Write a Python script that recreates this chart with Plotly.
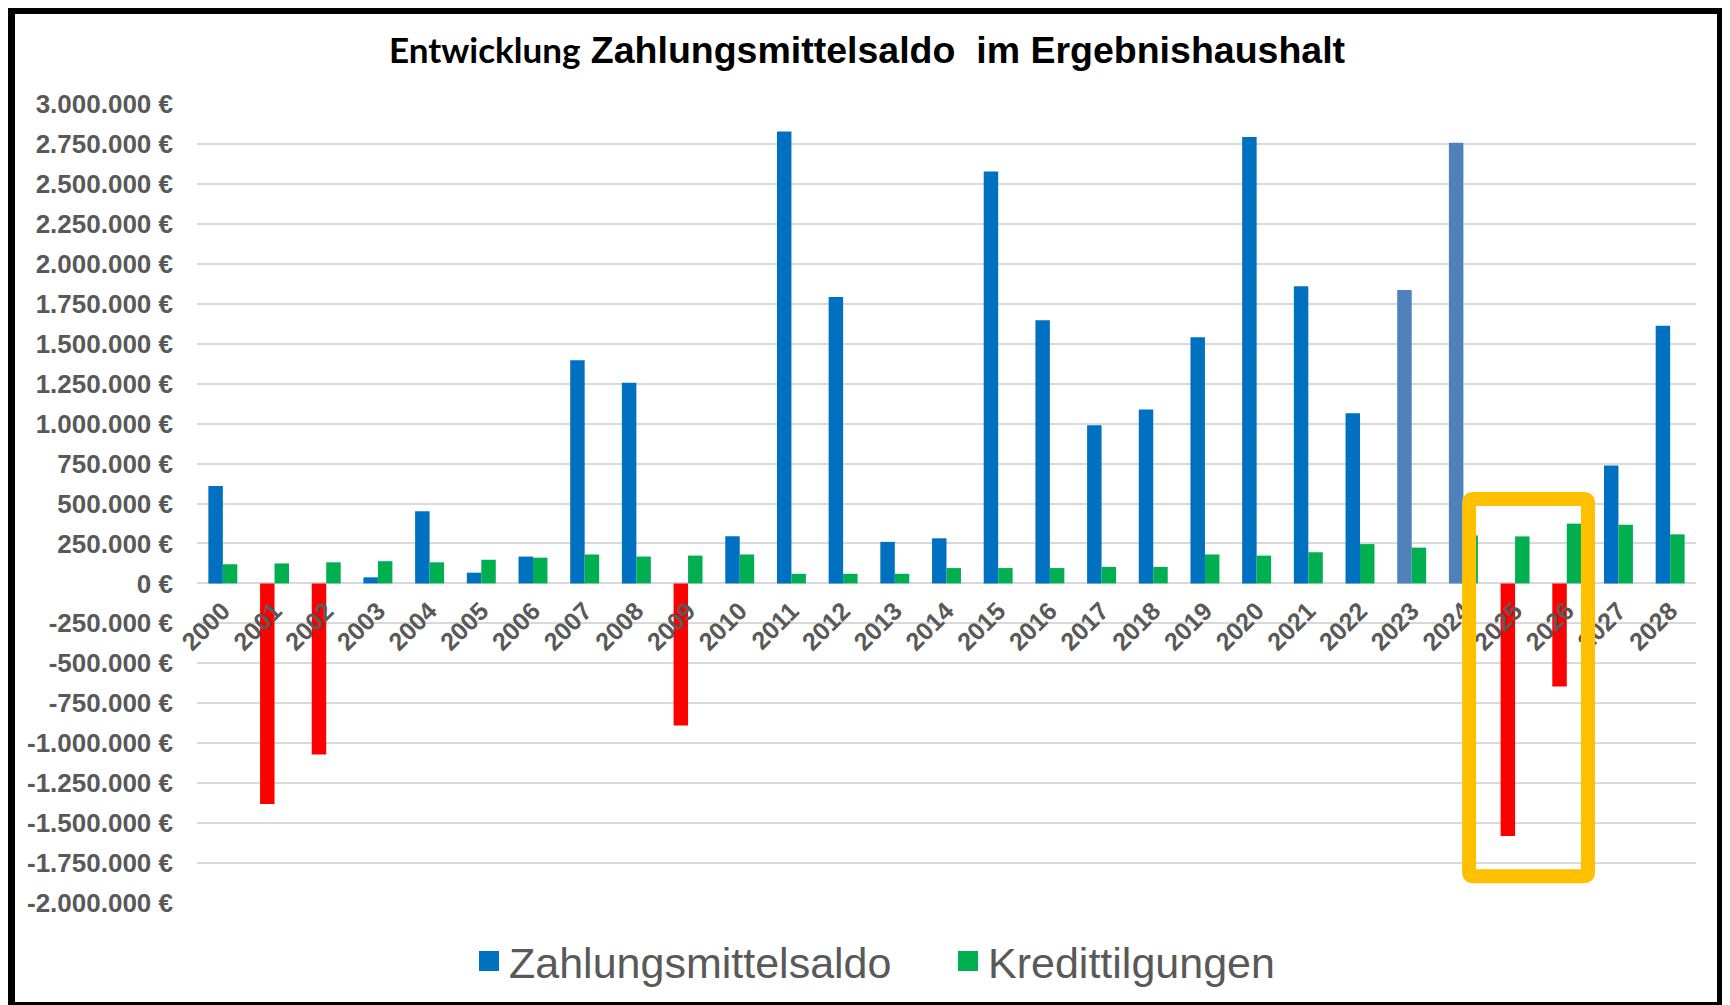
import plotly.graph_objects as go

# ---------------- data ----------------
years = ["2000", "2001", "2002", "2003", "2004", "2005", "2006", "2007", "2008", "2009",
         "2010", "2011", "2012", "2013", "2014", "2015", "2016", "2017", "2018", "2019",
         "2020", "2021", "2022", "2023", "2024", "2025", "2026", "2027", "2028"]

zahlungsmittelsaldo = [610000, -1380000, -1070000, 38000, 452000, 67000, 168000, 1396000,
                       1255000, -890000, 295000, 2828000, 1792000, 260000, 282000, 2577000,
                       1647000, 989000, 1089000, 1541000, 2794000, 1860000, 1065000, 1836000,
                       2758000, -1580000, -645000, 738000, 1613000]

kredittilgungen = [120000, 125000, 132000, 139000, 132000, 148000, 161000, 181000, 168000,
                   174000, 181000, 60000, 60000, 60000, 96000, 96000, 96000, 103000, 103000,
                   181000, 174000, 195000, 246000, 224000, 300000, 294000, 374000, 367000,
                   307000]

light_years = ["2023", "2024"]          # drawn in lighter blue
highlight_years = ["2025", "2026"]      # framed in yellow

y_tick_values = [3000000, 2750000, 2500000, 2250000, 2000000, 1750000, 1500000, 1250000,
                 1000000, 750000, 500000, 250000, 0, -250000, -500000, -750000, -1000000,
                 -1250000, -1500000, -1750000, -2000000]
y_min, y_max = -2000000, 3000000

# ---------------- style ----------------
BLUE = "#0070C0"
LIGHT_BLUE = "#4F81BD"
RED = "#FF0000"
GREEN = "#00B050"
GREY_TXT = "#595959"
GRID = "#D9D9D9"
YELLOW = "#FFC000"

OFF = 8                      # page (body) margin of the html page
W, H = 1730 - OFF, 1005 - OFF
ML, MR, MT, MB = 197 - OFF, 34, 104 - OFF, 102
PW, PH = W - ML - MR, H - MT - MB


def fmt_eur(v):
    s = f"{abs(v):,}".replace(",", ".")
    return ("-" if v < 0 else "") + s + " €"


def px_x(px):            # page pixel -> paper fraction
    return (px - OFF - ML) / PW


def px_y(py):
    return (H - MB - (py - OFF)) / PH


saldo_colors = [RED if v < 0 else (LIGHT_BLUE if y in light_years else BLUE)
                for y, v in zip(years, zahlungsmittelsaldo)]

fig = go.Figure()
fig.add_trace(go.Bar(x=years, y=zahlungsmittelsaldo, name="Zahlungsmittelsaldo",
                     marker=dict(color=saldo_colors, line=dict(width=0)), showlegend=False))
fig.add_trace(go.Bar(x=years, y=kredittilgungen, name="Kredittilgungen",
                     marker=dict(color=GREEN, line=dict(width=0)), showlegend=False))

# legend entries (larger square symbols)
fig.add_trace(go.Scatter(x=[None], y=[None], mode="markers", name="Zahlungsmittelsaldo",
                         marker=dict(symbol="square", size=16, color=BLUE,
                                     line=dict(color=BLUE, width=4))))
fig.add_trace(go.Scatter(x=[None], y=[None], mode="markers", name="Kredittilgungen",
                         marker=dict(symbol="square", size=16, color=GREEN,
                                     line=dict(color=GREEN, width=4))))

zero_pos = (0 - y_min) / (y_max - y_min)

fig.update_layout(
    width=W, height=H,
    margin=dict(l=ML, r=MR, t=MT, b=MB, autoexpand=False),
    paper_bgcolor="white", plot_bgcolor="white",
    barmode="group", bargap=0.44, bargroupgap=0.0,
    font=dict(family="Liberation Sans, Arial, sans-serif", color=GREY_TXT),
    title=dict(
        text="<b><span style='font-family:Lato, sans-serif; font-size:35px'>Entwicklung</span>"
             " Zahlungsmittelsaldo&nbsp; im Ergebnishaushalt</b>",
        font=dict(family="Liberation Sans, Arial, sans-serif", size=37.5, color="black"),
        x=(867 - OFF) / W, xref="container", xanchor="center",
        y=1 - (50 - OFF) / H, yref="container", yanchor="middle"),
    legend=dict(orientation="h", xref="container", yref="container",
                x=(948 - OFF) / W, xanchor="center", y=1 - (961 - OFF) / H, yanchor="middle",
                font=dict(size=43, color=GREY_TXT), bgcolor="rgba(0,0,0,0)",
                entrywidth=434, itemclick=False),
    xaxis=dict(type="category", anchor="free", position=zero_pos,
               range=[-0.5, len(years) - 0.5],
               showgrid=False, showline=False, zeroline=False, ticks="",
               tickangle=-45, ticklabelstandoff=7,
               tickfont=dict(size=25, color=GREY_TXT,
                             family="Liberation Sans, Arial, sans-serif", weight="bold")),
    yaxis=dict(range=[y_min, y_max], tickvals=y_tick_values,
               ticktext=[fmt_eur(v) for v in y_tick_values],
               showgrid=True, gridcolor=GRID, gridwidth=1.6, zeroline=False,
               showline=False, ticks="", ticklabelstandoff=23,
               tickfont=dict(size=26, color=GREY_TXT,
                             family="Liberation Sans, Arial, sans-serif", weight="bold")),
)

# yellow highlight frame (rounded outer corners) around the highlighted years
n = len(years)
i0 = years.index(highlight_years[0])
i1 = years.index(highlight_years[-1])
fx0 = (i0 - 0.89 + 0.5) / n
fx1 = (i1 + 0.41 + 0.5) / n
fy0 = (-1833000 - y_min) / (y_max - y_min)
fy1 = (528000 - y_min) / (y_max - y_min)
rx, ry = 4 / PW, 4 / PH
path = (f"M{fx0 + rx},{fy1} L{fx1 - rx},{fy1} Q{fx1},{fy1} {fx1},{fy1 - ry} "
        f"L{fx1},{fy0 + ry} Q{fx1},{fy0} {fx1 - rx},{fy0} "
        f"L{fx0 + rx},{fy0} Q{fx0},{fy0} {fx0},{fy0 + ry} "
        f"L{fx0},{fy1 - ry} Q{fx0},{fy1} {fx0 + rx},{fy1} Z")
fig.add_shape(type="path", xref="paper", yref="paper", path=path,
              line=dict(color=YELLOW, width=14), fillcolor="rgba(0,0,0,0)", layer="above")

# black frame around the whole picture (page pixel positions)
for (a, b, c, d) in [(7, 5, 15, 1005), (7, 5, 1730, 14), (1717, 5, 1730, 1005), (7, 1002, 1730, 1005)]:
    fig.add_shape(type="rect", xref="paper", yref="paper",
                  x0=px_x(a), x1=px_x(c), y0=px_y(d), y1=px_y(b),
                  line=dict(width=0), fillcolor="black", layer="above")

fig.write_html("out.html")
